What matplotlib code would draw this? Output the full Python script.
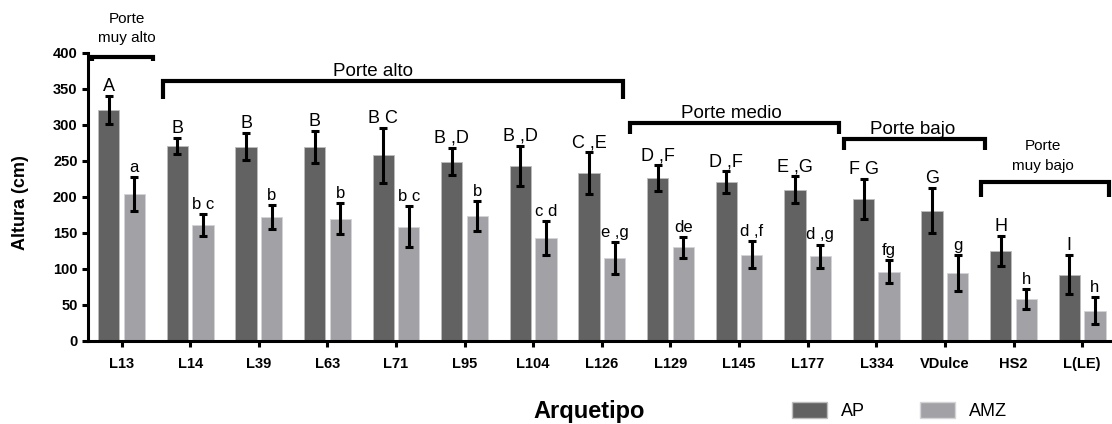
import numpy as np
import matplotlib
matplotlib.use('Agg')
import matplotlib.pyplot as plt
from matplotlib.patches import Patch

plt.rcParams['font.family'] = ['Liberation Sans', 'DejaVu Sans']

# Plant height per archetype, two environments (mean and error)
archetypes = ['L13', 'L14', 'L39', 'L63', 'L71', 'L95', 'L104', 'L126',
              'L129', 'L145', 'L177', 'L334', 'VDulce', 'HS2', 'L(LE)']
ap_mean = [321, 271, 270, 269, 258, 249, 243, 233, 226, 221, 210, 197, 181, 125, 92]
ap_err = [19, 11, 19, 22, 38, 19, 28, 29, 18, 15, 19, 28, 31, 21, 27]
amz_mean = [204, 161, 172, 170, 159, 174, 143, 115, 130, 120, 118, 96, 94, 58, 42]
amz_err = [24, 15, 17, 22, 29, 21, 24, 22, 15, 19, 16, 16, 25, 14, 19]

# Significance letters above each bar
ap_letters = ['A', 'B', 'B', 'B', 'B C', 'B ,D', 'B ,D', 'C ,E',
              'D ,F', 'D ,F', 'E ,G', 'F G', 'G', 'H', 'I']
amz_letters = ['a', 'b c', 'b', 'b', 'b c', 'b', 'c d', 'e ,g',
               'de', 'd ,f', 'd ,g', 'fg', 'g', 'h', 'h']

# Height classes: label, first/last bracket x, bracket top, bracket foot
groups = [
    ('Porte\nmuy alto', -0.43, 0.46, 395, 389),
    ('Porte alto', 0.60, 7.31, 361, 336),
    ('Porte medio', 7.41, 10.46, 303, 288),
    ('Porte bajo', 10.53, 12.58, 281, 265),
    ('Porte\nmuy bajo', 12.52, 14.39, 221, 200),
]
group_text_pos = [(0.08, 434, 'center'), (3.66, 368, 'baseline'),
                  (8.89, 310, 'baseline'), (11.53, 287, 'baseline'),
                  (13.43, 257, 'center')]

AP_COLOR = '#626262'
AMZ_COLOR = '#a1a1a6'

fig = plt.figure(figsize=(11.12, 4.24), dpi=100)
ax = fig.add_axes([0.0791, 0.1958, 0.9187, 0.6792])

x = np.arange(len(archetypes))
width = 0.31
offset = 0.186

ax.bar(x - offset, ap_mean, width, color=AP_COLOR, edgecolor='#bdbdbd',
       linewidth=0.6, label='AP', zorder=2)
ax.bar(x + offset, amz_mean, width, color=AMZ_COLOR, edgecolor='#d4d4d8',
       linewidth=0.6, label='AMZ', zorder=2)

for xs, m, e in ((x - offset, ap_mean, ap_err), (x + offset, amz_mean, amz_err)):
    ax.errorbar(xs, m, yerr=e, fmt='none', ecolor='black', elinewidth=2.2,
                capsize=3, capthick=2.2, zorder=3, clip_on=False)

for i in range(len(archetypes)):
    ax.text(x[i] - offset, ap_mean[i] + ap_err[i] + 7, ap_letters[i],
            ha='center', va='baseline', fontsize=13, clip_on=False)
    ax.text(x[i] + offset, amz_mean[i] + amz_err[i] + 7, amz_letters[i],
            ha='center', va='baseline', fontsize=12, clip_on=False)

# Brackets grouping the archetypes
for (label, x0, x1, ytop, yfoot), (tx, ty, va) in zip(groups, group_text_pos):
    ax.plot([x0, x0, x1, x1], [yfoot, ytop, ytop, yfoot], color='black',
            lw=3, solid_joinstyle='miter', solid_capstyle='butt',
            clip_on=False, zorder=4)
    fs = 11 if '\n' in label else 13.5
    ax.text(tx, ty, label, ha='center', va=va, fontsize=fs,
            linespacing=1.5, clip_on=False)

ax.set_xlim(-0.49, 14.4)
ax.set_ylim(0, 400)
ax.set_yticks(np.arange(0, 401, 50))
ax.set_xticks(x)
ax.set_xticklabels(archetypes, fontsize=10.5, fontweight='bold')
for lbl in ax.get_yticklabels():
    lbl.set_fontsize(10.5)
    lbl.set_fontweight('bold')

for side in ('top', 'right'):
    ax.spines[side].set_visible(False)
for side in ('left', 'bottom'):
    ax.spines[side].set_linewidth(2.2)
ax.tick_params(axis='y', length=4.5, width=2.2, pad=3)
ax.tick_params(axis='x', length=4.5, width=2.2, pad=7)

ax.set_ylabel('Altura (cm)', fontsize=13, fontweight='bold')
ax.yaxis.set_label_coords(-0.058, 0.48)
ax.set_xlabel('Arquetipo', fontsize=17, fontweight='bold', va='top')
ax.xaxis.set_label_coords(0.491, -0.205)

handles = [Patch(facecolor=AP_COLOR, edgecolor='#bdbdbd', label='AP'),
           Patch(facecolor=AMZ_COLOR, edgecolor='#d4d4d8', label='AMZ')]
ax.legend(handles=handles, loc='center left', ncol=2, frameon=False,
          bbox_to_anchor=(0.712, 0.031), bbox_transform=fig.transFigure,
          fontsize=13, handlelength=1.95, handleheight=1.05,
          handletextpad=0.8, columnspacing=3.0, borderpad=0,
          borderaxespad=0)

fig.savefig('out.png', dpi=100, facecolor='white')
